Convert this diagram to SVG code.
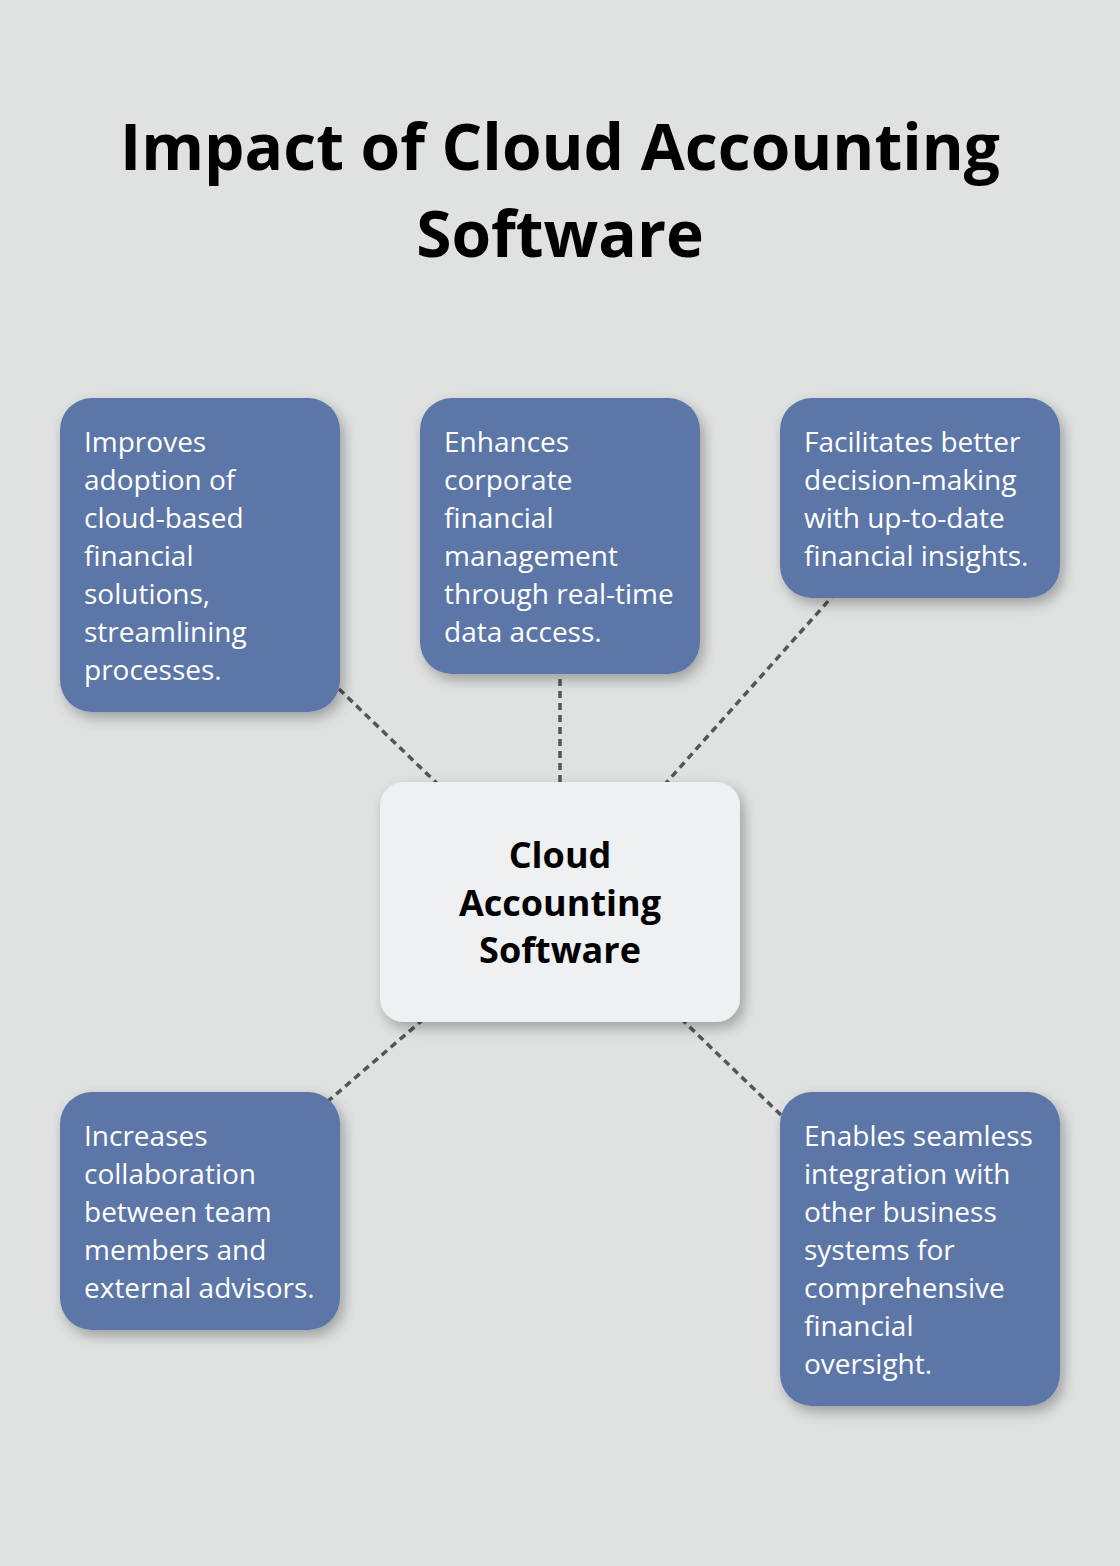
<svg xmlns="http://www.w3.org/2000/svg" width="1120" height="1566" viewBox="0 0 1120 1566">
<defs>
<filter id="sh" x="-20%" y="-20%" width="150%" height="150%">
<feGaussianBlur in="SourceAlpha" stdDeviation="7"/>
<feOffset dx="4" dy="6" result="b"/>
<feComponentTransfer><feFuncA type="linear" slope="0.3"/></feComponentTransfer>
<feMerge><feMergeNode/><feMergeNode in="SourceGraphic"/></feMerge>
</filter>
<style>
.title{font-family:"Open Sans","Noto Sans",sans-serif;font-weight:700;font-size:64px;fill:#000;text-anchor:middle}
.node rect{fill:#5b76a8}
.node text{font-family:"Open Sans","Noto Sans",sans-serif;font-size:28px;fill:#fff}
.center rect{fill:#eff0f2}
.center text{font-family:"Open Sans","Noto Sans",sans-serif;font-weight:700;font-size:36px;fill:#000;text-anchor:middle}
.conn line{stroke:#555;stroke-width:3.5;stroke-dasharray:7 5;fill:none}
</style>
</defs>
<rect width="1120" height="1566" fill="#e0e2e1"/>
<g id="title">
<text class="title" x="560" y="170">Impact of Cloud Accounting</text>
<text class="title" x="560" y="257">Software</text>
</g>
<g id="connectors" class="conn">
<line x1="560" y1="902" x2="200" y2="555"/>
<line x1="560" y1="902" x2="560" y2="536"/>
<line x1="560" y1="902" x2="920" y2="498"/>
<line x1="560" y1="902" x2="200" y2="1211"/>
<line x1="560" y1="902" x2="920" y2="1249"/>
</g>
<g id="node-center" class="center">
<rect x="380" y="782" width="360" height="240" rx="24" filter="url(#sh)"/>
<text x="560" y="868">Cloud</text>
<text x="560" y="916">Accounting</text>
<text x="560" y="963">Software</text>
</g>
<g id="node-adoption" class="node">
<rect x="60" y="398" width="280" height="314" rx="32" filter="url(#sh)"/>
<text x="84" y="452">Improves</text>
<text x="84" y="490">adoption of</text>
<text x="84" y="528">cloud-based</text>
<text x="84" y="566">financial</text>
<text x="84" y="604">solutions,</text>
<text x="84" y="642">streamlining</text>
<text x="84" y="680">processes.</text>
</g>
<g id="node-management" class="node">
<rect x="420" y="398" width="280" height="276" rx="32" filter="url(#sh)"/>
<text x="444" y="452">Enhances</text>
<text x="444" y="490">corporate</text>
<text x="444" y="528">financial</text>
<text x="444" y="566">management</text>
<text x="444" y="604">through real-time</text>
<text x="444" y="642">data access.</text>
</g>
<g id="node-decision" class="node">
<rect x="780" y="398" width="280" height="200" rx="32" filter="url(#sh)"/>
<text x="804" y="452">Facilitates better</text>
<text x="804" y="490">decision-making</text>
<text x="804" y="528">with up-to-date</text>
<text x="804" y="566">financial insights.</text>
</g>
<g id="node-collaboration" class="node">
<rect x="60" y="1092" width="280" height="238" rx="32" filter="url(#sh)"/>
<text x="84" y="1146">Increases</text>
<text x="84" y="1184">collaboration</text>
<text x="84" y="1222">between team</text>
<text x="84" y="1260">members and</text>
<text x="84" y="1298">external advisors.</text>
</g>
<g id="node-integration" class="node">
<rect x="780" y="1092" width="280" height="314" rx="32" filter="url(#sh)"/>
<text x="804" y="1146">Enables seamless</text>
<text x="804" y="1184">integration with</text>
<text x="804" y="1222">other business</text>
<text x="804" y="1260">systems for</text>
<text x="804" y="1298">comprehensive</text>
<text x="804" y="1336">financial</text>
<text x="804" y="1374">oversight.</text>
</g>
</svg>
